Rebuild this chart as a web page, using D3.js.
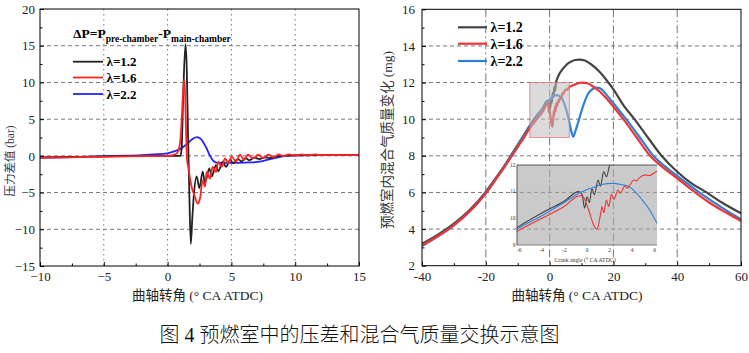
<!DOCTYPE html>
<html><head><meta charset="utf-8">
<script src="https://cdn.jsdelivr.net/npm/d3@7"></script>
<style>
html,body{margin:0;padding:0;background:#fff;}
svg{display:block;}
text{font-family:"Liberation Serif","Times New Roman","Noto Sans CJK SC",serif;}
</style></head>
<body>
<svg id="c" width="749" height="353"></svg>
<script>
// ---------- DATA ----------
const seriesNames = ["λ=1.2", "λ=1.6", "λ=2.2"];

// Left chart: pressure difference (bar) vs crank angle
const dp12 = [[-10,-0.2],[-8,-0.15],[-6,-0.1],[-4,-0.05],[-2,0],[0,0],[1.0,0],[1.1,1],[1.22,8],[1.4,15.2],[1.5,12],[1.6,3],[1.7,-5],[1.82,-12],[1.92,-9],[2.05,-5.5],
  [2.28,-2.8],[2.49,-4.4],[2.75,-2.15],[2.93,-3.7],[3.27,-1.7],[3.46,-2.8],[3.79,-1.25],[3.97,-2.1],[4.32,-0.8],[4.58,-1.5],[4.9,-0.55],[5.15,-1.0],
  [5.5,-0.4],[5.8,-0.75],[6.1,-0.3],[6.4,-0.6],[6.8,-0.25],[7.2,-0.45],[7.6,-0.2],[8,-0.3],[8.5,-0.1],[9,0],[10,0.1],[12,0.1],[15,0.1]];
const dp16 = [[-10,-0.25],[-8,-0.2],[-6,-0.15],[-4,-0.1],[-2,-0.05],[0,0],[0.4,0.1],[0.7,0.3],[0.92,1.2],[1.02,2.5],[1.12,5.5],[1.22,8.8],[1.3,10.4],[1.38,8],[1.45,3],[1.52,-0.5],
  [1.62,-1.5],[1.75,-3],[1.88,-4.2],[2.15,-5.6],[2.36,-6.5],[2.54,-5.8],[2.75,-3.3],[2.93,-4.2],[3.06,-2.2],[3.32,-3.1],[3.53,-1.5],[3.79,-2.2],[3.97,-0.8],
  [4.24,-1.5],[4.5,-0.35],[4.76,-1.0],[5.02,-0.1],[5.36,-0.8],[5.67,0.15],[6.0,-0.55],[6.3,0.15],[6.7,-0.35],[7.1,0.15],[7.5,-0.3],[7.9,0.15],[8.3,-0.2],
  [8.7,0.2],[9.1,-0.05],[9.5,0.2],[10,0.05],[10.5,0.2],[11,0.05],[11.5,0.2],[12,0.1],[13,0.1],[15,0.1]];
const dp22 = [[-10,-0.25],[-8,-0.2],[-6,-0.1],[-4,0],[-2,0.1],[-1,0.2],[0,0.35],[0.5,0.6],[1,0.95],[1.5,1.6],[2,2.35],[2.3,2.55],[2.6,2.3],[3.0,1.2],[3.3,0.1],
  [3.6,-0.7],[3.9,-0.95],[4.5,-0.95],[5.5,-0.95],[6.5,-0.9],[7.2,-0.8],[7.8,-0.55],[8.3,-0.35],[8.8,-0.15],[9.3,0],[10,0.05],[12,0.1],[15,0.1]];

// Right chart: mixture mass in pre-chamber (mg) vs crank angle
const mass12 = [[-40,3.2],[-35,3.7],[-30,4.3],[-25,5.05],[-20,6.03],[-17,6.75],[-14,7.5],[-12,8.05],[-10,8.6],[-8,9.15],[-6.07,9.69],[-4,10.2],[-2,10.65],
  [-0.74,11.0],[-0.44,10.9],[-0.21,10.38],[0,10.81],[0.21,10.59],[0.44,11.12],[0.65,10.88],[0.98,11.44],[1.19,11.21],[1.48,11.75],[1.72,11.56],[2.01,12.0],
  [2.5,12.25],[3,12.45],[4,12.72],[5,12.92],[6,13.07],[7,13.17],[8,13.23],[9.4,13.25],[11,13.2],[13,13.0],[15.8,12.56],[18,12.1],[20,11.63],[23,10.8],
  [26.6,10.0],[30.8,9.0],[35.1,8.0],[40,7.13],[44.5,6.5],[49.2,6.0],[54,5.45],[60,4.86]];
const mass16 = [[-40,3.12],[-35,3.62],[-30,4.22],[-25,4.98],[-20,5.95],[-17,6.68],[-14,7.42],[-12,7.95],[-10,8.48],[-8,9.0],[-6.07,9.54],[-4,10.0],[-2,10.45],
  [-0.74,10.84],[-0.44,10.85],[0.15,10.31],[0.59,9.75],[0.89,9.59],[1.19,10.13],[1.33,10.44],[1.48,10.21],[1.72,10.69],[1.93,10.44],[2.16,10.9],[2.37,10.71],
  [2.76,11.06],[2.96,10.94],[3.35,11.21],[3.56,11.13],[4.15,11.44],[4.4,11.4],[4.6,11.5],[5.19,11.63],[5.5,11.6],[6.13,11.75],[7,11.83],[8,11.9],[9,11.97],
  [10,12.0],[12,11.95],[13.5,11.8],[15.8,11.5],[18,11.1],[20,10.68],[23.1,10.0],[27.3,9.0],[31.5,8.0],[36,7.3],[40,6.77],[45.6,6.0],[50,5.45],[55,4.93],[60,4.44]];
const mass22 = [[-40,3.07],[-35,3.6],[-30,4.2],[-25,4.97],[-20,5.95],[-17,6.7],[-14,7.45],[-12,8.0],[-10,8.55],[-8,9.08],[-6.07,9.63],[-4,10.1],[-2,10.6],
  [-0.74,10.94],[0.5,11.15],[1.3,11.27],[2.22,11.31],[3.0,11.27],[3.7,11.19],[4.3,10.98],[4.89,10.69],[5.5,10.35],[6.13,9.87],[6.8,9.35],[7.43,9.04],
  [8.0,9.3],[9.0,9.86],[10.6,10.77],[12.1,11.4],[13.5,11.65],[15.0,11.72],[16.5,11.6],[18,11.3],[20,10.87],[24,10.0],[28.3,9.0],[32.5,8.0],[36,7.45],
  [40,6.9],[43.5,6.45],[46.9,6.0],[52,5.4],[56,4.95],[60,4.53]];

// Tick values
const leftXTicks = [-10,-5,0,5,10,15];
const leftYTicks = [-15,-10,-5,0,5,10,15,20];
const leftXMinor = [-7.5,-2.5,2.5,7.5,12.5];
const leftYMinor = [-12.5,-7.5,-2.5,2.5,7.5,12.5,17.5];
const rightXTicks = [-40,-20,0,20,40,60];
const rightYTicks = [2,4,6,8,10,12,14,16];
const rightXMinor = [-30,-10,10,30,50];
const rightYMinor = [3,5,7,9,11,13,15];
const insetXTicks = [-6,-4,-2,0,2,4,6];
const insetYTicks = [9,10,11,12];
const zoomBox = {x0:-6.2, x1:6.2, y0:9, y1:12};

// ---------- DRAW ----------
const svg = d3.select("#c");
const minus = v => (v < 0 ? "\u2212" + Math.abs(v) : "" + v);

function frameAxes(g, x, y, xt, yt, xm, ym, xfmt, yfmt, ypad) {
  const [x0, x1] = x.range(), [y1, y0] = y.range();
  g.append("g").attr("transform", `translate(0,${y1})`)
    .call(d3.axisBottom(x).tickValues(xt).tickSize(-4).tickPadding(6).tickFormat(xfmt));
  g.append("g").attr("transform", `translate(${x0},0)`)
    .call(d3.axisLeft(y).tickValues(yt).tickSize(-4).tickPadding(ypad).tickFormat(yfmt));
  g.append("g").attr("transform", `translate(0,${y1})`)
    .call(d3.axisBottom(x).tickValues(xm).tickSize(-2.5).tickFormat(""));
  g.append("g").attr("transform", `translate(${x0},0)`)
    .call(d3.axisLeft(y).tickValues(ym).tickSize(-2.5).tickFormat(""));
  g.selectAll(".domain").remove();
  g.selectAll(".tick line").attr("stroke", "#000").attr("stroke-width", 1);
  g.selectAll(".tick text").attr("font-size", 13).attr("fill", "#222")
    .attr("font-family", '"Liberation Serif","Times New Roman",serif');
  g.append("rect").attr("x", x0).attr("y", y0).attr("width", x1 - x0).attr("height", y1 - y0)
    .attr("fill", "none").attr("stroke", "#000").attr("stroke-width", 1);
}

// ===== Left chart =====
const L = svg.append("g");
const lx = d3.scaleLinear().domain([-10, 15]).range([40, 359]);
const ly = d3.scaleLinear().domain([-15, 20]).range([266, 9]);
L.append("clipPath").attr("id", "clipL").append("rect")
  .attr("x", 40).attr("y", 9).attr("width", 319).attr("height", 257);
L.append("g").selectAll("line").data(leftYTicks.filter(v => v > -15 && v < 20)).join("line")
  .attr("x1", 40).attr("x2", 359).attr("y1", d => ly(d)).attr("y2", d => ly(d))
  .attr("stroke", "#777").attr("stroke-width", 1).attr("stroke-dasharray", "4,3");
L.append("g").selectAll("line").data(leftXTicks.filter(v => v > -10 && v < 15)).join("line")
  .attr("y1", 9).attr("y2", 266).attr("x1", d => lx(d)).attr("x2", d => lx(d))
  .attr("stroke", "#777").attr("stroke-width", 1).attr("stroke-dasharray", "1.5,3.5");
const leftColors = ["#222222", "#ff2424", "#2323ff"];
const lline = d3.line().x(d => lx(d[0])).y(d => ly(d[1])).curve(d3.curveMonotoneX);
const lp = L.append("g").attr("clip-path", "url(#clipL)");
[dp22, dp12, dp16].forEach((s, i) => {
  const ci = [2, 0, 1][i];
  lp.append("path").datum(s).attr("d", lline).attr("fill", "none")
    .attr("stroke", leftColors[ci]).attr("stroke-width", 1.8).attr("stroke-linejoin", "round");
});
frameAxes(L, lx, ly, leftXTicks, leftYTicks, leftXMinor, leftYMinor, minus, minus, 5);
const lt = L.append("text").attr("x", 73).attr("y", 38).attr("font-weight", "bold").attr("font-size", 13.5).attr("fill", "#000");
lt.append("tspan").text("ΔP=P");
lt.append("tspan").attr("font-size", 9.5).attr("dy", 3.5).text("pre-chamber");
lt.append("tspan").attr("dy", -3.5).text("-P");
lt.append("tspan").attr("font-size", 9.5).attr("dy", 3.5).text("main-chamber");
const lLegY = [61.7, 77.5, 94];
seriesNames.forEach((n, i) => {
  L.append("line").attr("x1", 73).attr("x2", 103).attr("y1", lLegY[i]).attr("y2", lLegY[i])
    .attr("stroke", leftColors[i]).attr("stroke-width", 1.8);
  L.append("text").attr("x", 106.5).attr("y", lLegY[i] + 4.5).attr("font-weight", "bold")
    .attr("font-size", 13).attr("fill", "#000").text(n);
});
L.append("text").attr("x", 197.5).attr("y", 300).attr("text-anchor", "middle").attr("font-size", 13.5)
  .attr("fill", "#222").text("曲轴转角 (° CA ATDC)");
L.append("text").attr("transform", "translate(14,161) rotate(-90)").attr("text-anchor", "middle")
  .attr("font-size", 11.5).attr("fill", "#3a3a4a").text("压力差值 (bar)");

// ===== Right chart =====
const R = svg.append("g");
const rx = d3.scaleLinear().domain([-40, 60]).range([422, 741]);
const ry = d3.scaleLinear().domain([2, 16]).range([265.7, 9.3]);
R.append("clipPath").attr("id", "clipR").append("rect")
  .attr("x", 422).attr("y", 9.3).attr("width", 319).attr("height", 256.4);
R.append("g").selectAll("line").data(rightYTicks.filter(v => v > 2 && v < 16)).join("line")
  .attr("x1", 422).attr("x2", 741).attr("y1", d => ry(d)).attr("y2", d => ry(d))
  .attr("stroke", "#777").attr("stroke-width", 1).attr("stroke-dasharray", "4,3");
R.append("g").selectAll("line").data(rightXTicks.filter(v => v > -40 && v < 60)).join("line")
  .attr("y1", 9.3).attr("y2", 265.7).attr("x1", d => rx(d)).attr("x2", d => rx(d))
  .attr("stroke", "#777").attr("stroke-width", 1).attr("stroke-dasharray", "8,3,2,3");
const rightColors = ["#444444", "#ee3434", "#2f7fd9"];
const rline = d3.line().x(d => rx(d[0])).y(d => ry(d[1])).curve(d3.curveMonotoneX);
const rp = R.append("g").attr("clip-path", "url(#clipR)");
[mass12, mass22, mass16].forEach((s, i) => {
  const ci = [0, 2, 1][i];
  rp.append("path").datum(s).attr("d", rline).attr("fill", "none")
    .attr("stroke", rightColors[ci]).attr("stroke-width", 2.2).attr("stroke-linejoin", "round");
});
R.append("rect").attr("x", rx(zoomBox.x0)).attr("y", ry(zoomBox.y1))
  .attr("width", rx(zoomBox.x1) - rx(zoomBox.x0)).attr("height", ry(zoomBox.y0) - ry(zoomBox.y1))
  .attr("fill", "rgba(190,190,190,0.55)").attr("stroke", "rgba(235,110,110,0.75)").attr("stroke-width", 1);

const ix = d3.scaleLinear().domain([-6.2, 6.2]).range([517, 657]);
const iy = d3.scaleLinear().domain([9, 12]).range([245, 165]);
R.append("clipPath").attr("id", "clipI").append("rect")
  .attr("x", 517).attr("y", 165).attr("width", 140).attr("height", 80);
R.append("rect").attr("x", 517).attr("y", 165).attr("width", 140).attr("height", 80)
  .attr("fill", "rgba(170,170,170,0.62)");
const iline = d3.line().x(d => ix(d[0])).y(d => iy(d[1])).curve(d3.curveMonotoneX);
const ip = R.append("g").attr("clip-path", "url(#clipI)");
[mass12, mass22, mass16].forEach((s, i) => {
  const ci = [0, 2, 1][i];
  ip.append("path").datum(s).attr("d", iline).attr("fill", "none")
    .attr("stroke", rightColors[ci]).attr("stroke-width", 1.1);
});
R.append("line").attr("x1", 517).attr("x2", 657).attr("y1", 165).attr("y2", 165).attr("stroke", "#555").attr("stroke-width", 1.2);
R.append("line").attr("x1", 517).attr("x2", 517).attr("y1", 165).attr("y2", 245).attr("stroke", "#555").attr("stroke-width", 1);
R.append("line").attr("x1", 517).attr("x2", 657).attr("y1", 245).attr("y2", 245).attr("stroke", "#666").attr("stroke-width", 0.8);
R.append("g").selectAll("text").data(insetYTicks).join("text")
  .attr("x", 515.5).attr("y", d => iy(d) + 1.8).attr("text-anchor", "end").attr("font-size", 5.5).attr("fill", "#333").text(d => d);
R.append("g").selectAll("text").data(insetXTicks).join("text")
  .attr("x", d => ix(d)).attr("y", 252).attr("text-anchor", "middle").attr("font-size", 5.5).attr("fill", "#333").text(d => d);
R.append("text").attr("x", 585).attr("y", 262).attr("text-anchor", "middle").attr("font-size", 5.8)
  .attr("fill", "#333").text("Crank angle (° CA ATDC)");

frameAxes(R, rx, ry, rightXTicks, rightYTicks, rightXMinor, rightYMinor, d => "" + d, d => "" + d, 7);
const rLegY = [27.3, 43.7, 61];
seriesNames.forEach((n, i) => {
  R.append("line").attr("x1", 458).attr("x2", 487).attr("y1", rLegY[i]).attr("y2", rLegY[i])
    .attr("stroke", rightColors[i]).attr("stroke-width", 2.2);
  R.append("text").attr("x", 490.5).attr("y", rLegY[i] + 5).attr("font-weight", "bold")
    .attr("font-size", 14).attr("fill", "#000").text(n);
});
R.append("text").attr("x", 577).attr("y", 300).attr("text-anchor", "middle").attr("font-size", 13.5)
  .attr("fill", "#222").text("曲轴转角 (° CA ATDC)");
R.append("text").attr("transform", "translate(392,140) rotate(-90)").attr("text-anchor", "middle")
  .attr("font-size", 13.5).attr("fill", "#333").text("预燃室内混合气质量变化 (mg)");

svg.append("text").attr("x", 359.5).attr("y", 342).attr("text-anchor", "middle")
  .attr("font-size", 20).attr("fill", "#111").attr("font-weight", 300)
  .attr("font-family", '"Noto Sans CJK SC","Liberation Serif",serif')
  .text("图 4  预燃室中的压差和混合气质量交换示意图");
</script>
</body></html>
